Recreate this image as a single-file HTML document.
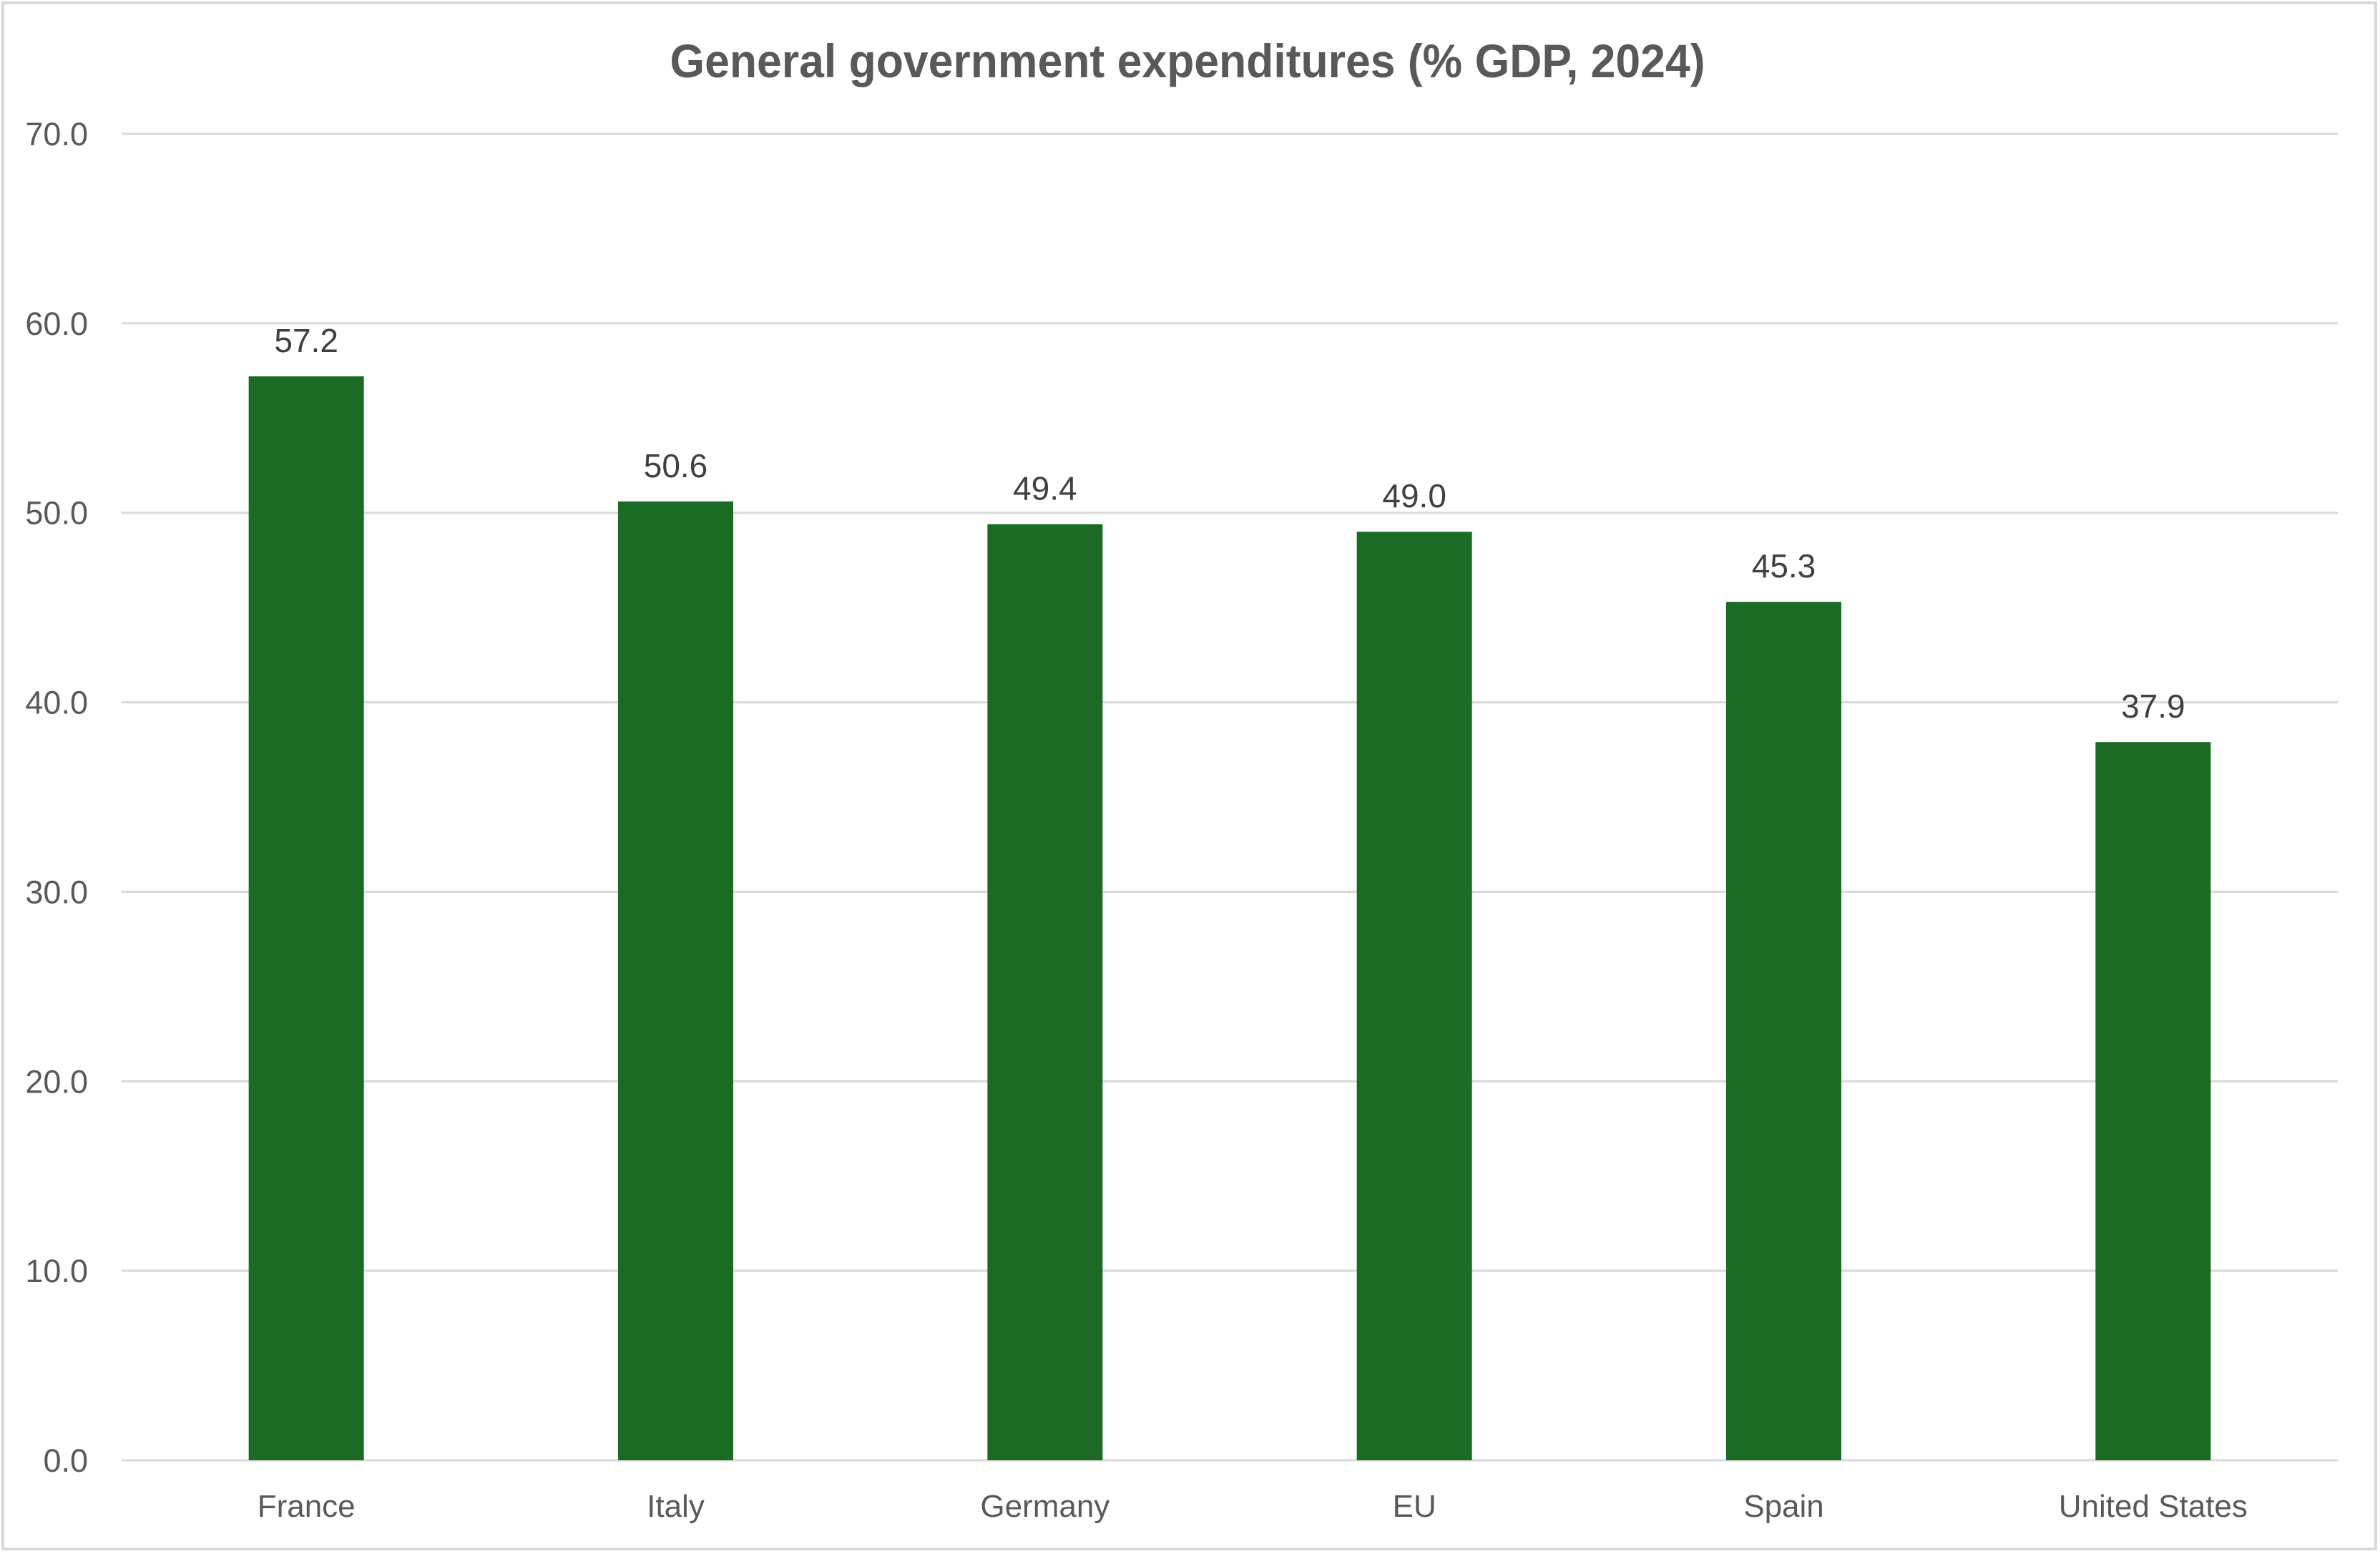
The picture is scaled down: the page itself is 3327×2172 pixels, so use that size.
<!DOCTYPE html>
<html><head><meta charset="utf-8"><style>html,body{margin:0;padding:0;background:#fff}svg{display:block}</style></head>
<body>
<svg id="chart" width="3327" height="2172" viewBox="0 0 3327 2172" xmlns="http://www.w3.org/2000/svg" font-family="'Liberation Sans', sans-serif">
<rect x="4" y="4" width="3317" height="2161" fill="#fff" stroke="#d9d9d9" stroke-width="4"/>
<text x="1660" y="108" text-anchor="middle" font-size="66" font-weight="bold" fill="#595959" textLength="1447" lengthAdjust="spacingAndGlyphs">General government expenditures (% GDP, 2024)</text>
<g id="grid"></g><g id="bars"></g><g id="labels"></g>
</svg>
<script>
const categories = ["France","Italy","Germany","EU","Spain","United States"];
const values = [57.2,50.6,49.4,49.0,45.3,37.9];
const yTicks = [0,10,20,30,40,50,60,70];
const NS="http://www.w3.org/2000/svg";
const L=170,R=3268,T=187,B=2041,yMax=70;
const y=v=>B-(v/yMax)*(B-T);
const band=(R-L)/categories.length;
const xc=i=>L+band*(i+0.5);
const bw=161;
function mk(tag,attrs,parent,txt){const e=document.createElementNS(NS,tag);for(const k in attrs)e.setAttribute(k,attrs[k]);if(txt!==undefined)e.textContent=txt;document.getElementById(parent).appendChild(e);return e;}
yTicks.forEach(t=>{
  const g=mk('line',{x1:L,x2:R,y1:y(t),y2:y(t),stroke:'#d9d9d9','stroke-width':3},'grid');
  
  
  const tl=mk('text',{x:123,y:y(t)+16,'text-anchor':'end','font-size':45,fill:'#595959'},'labels',t.toFixed(1));
  
  
});
categories.forEach((c,i)=>{
  const b=mk('rect',{x:xc(i)-bw/2,y:y(values[i]),width:bw,height:B-y(values[i]),fill:'#1b6b25'},'bars');
  
  
  const v=mk('text',{x:xc(i),y:y(values[i])-34,'text-anchor':'middle','font-size':46,fill:'#404040'},'labels',values[i].toFixed(1));
  
  
  const cl=mk('text',{x:xc(i),y:2120,'text-anchor':'middle','font-size':44,fill:'#595959'},'labels',c);
  
  
});
</script>
</body></html>
